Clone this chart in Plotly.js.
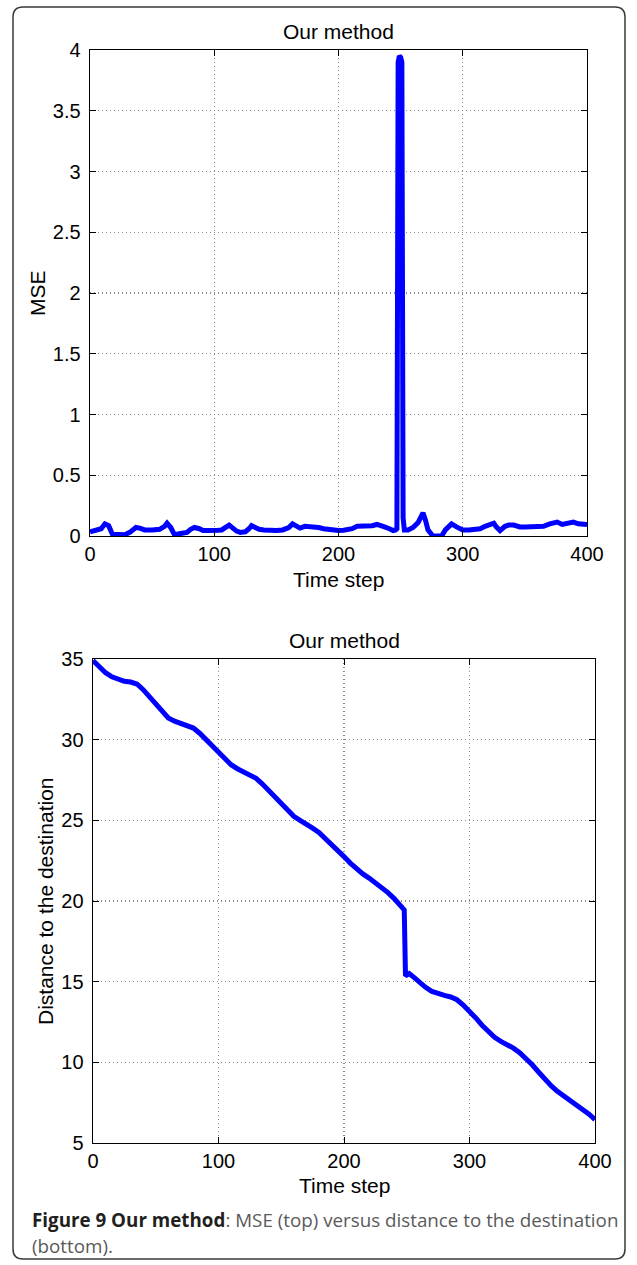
<!DOCTYPE html>
<html>
<head>
<meta charset="utf-8">
<script src="https://cdn.plot.ly/plotly-3.0.1.min.js"></script>
<style>html,body{margin:0;padding:0;background:#fff;}#chart{width:637px;height:1265px;}</style>
</head>
<body>
<div id="chart"></div>
<script>
// ---- Data ----
const mseTime = [0,3,6,9,12,15,18,22,28,32,35,37,40,44,50,56,60,62,65,68,73,78,81,84,88,91,95,99,103,106,109,112,115,118,121,125,128,130,133,136,140,145,150,155,160,163,166,169,173,177,180,184,188,193,197,200,204,208,211,215,219,223,227,231,234,237,241,244,246,247,248,249,250,251,252,253,256,260,264,268,270,272,276,280,283,286,291,295,300,305,310,314,318,322,325,327,330,334,337,341,346,350,354,360,365,370,373,376,380,384,389,393,397,400];
const mseValue = [0.035,0.04,0.045,0.06,0.1,0.085,0.015,0.01,0.01,0.03,0.055,0.07,0.065,0.05,0.05,0.055,0.08,0.105,0.07,0.01,0.02,0.03,0.055,0.07,0.06,0.045,0.045,0.043,0.048,0.05,0.065,0.09,0.065,0.04,0.03,0.035,0.06,0.085,0.07,0.055,0.05,0.045,0.045,0.05,0.07,0.1,0.08,0.065,0.08,0.08,0.075,0.07,0.06,0.05,0.045,0.045,0.048,0.05,0.06,0.08,0.08,0.085,0.085,0.095,0.09,0.075,0.06,0.045,0.05,0.06,3.9,3.95,3.94,3.9,0.15,0.05,0.05,0.07,0.11,0.19,0.13,0.05,0.0,0.0,0.0,0.05,0.1,0.075,0.05,0.05,0.05,0.06,0.08,0.1,0.105,0.075,0.045,0.08,0.09,0.09,0.075,0.075,0.075,0.075,0.08,0.1,0.11,0.115,0.095,0.1,0.115,0.1,0.1,0.095];

const distTime = [0,5,10,15,20,25,30,35,40,45,50,55,60,65,70,75,80,85,90,95,100,105,110,115,120,125,130,135,140,145,150,155,160,165,170,175,180,185,190,195,200,205,210,215,220,225,230,235,240,245,248,249,252,256,260,265,270,275,280,285,290,295,300,305,310,315,320,325,330,335,340,345,350,355,360,365,370,375,380,385,390,395,400];
const distValue = [34.9,34.5,34.15,33.9,33.72,33.62,33.57,33.45,33.1,32.65,32.15,31.7,31.35,31.15,31.02,30.9,30.72,30.4,30.0,29.6,29.2,28.8,28.45,28.2,28.02,27.85,27.6,27.25,26.85,26.42,26.0,25.6,25.25,25.0,24.78,24.52,24.25,23.9,23.55,23.15,22.75,22.35,21.98,21.68,21.42,21.15,20.85,20.52,20.15,19.75,19.45,15.35,15.5,15.25,14.95,14.65,14.4,14.25,14.15,14.05,13.88,13.55,13.2,12.75,12.3,11.88,11.55,11.3,11.1,10.88,10.6,10.25,9.85,9.4,8.95,8.55,8.2,7.92,7.68,7.42,7.12,6.8,6.45];

const xTicks = [0,100,200,300,400];
const xTickLabels = ['0','100','200','300','400'];
const mseTicks = [0,0.5,1,1.5,2,2.5,3,3.5,4];
const mseTickLabels = ['0','0.5','1','1.5','2','2.5','3','3.5','4'];
const distTicks = [5,10,15,20,25,30,35];
const distTickLabels = ['5','10','15','20','25','30','35'];

const plotTitle = 'Our method';
const xLabel = 'Time step';
const mseLabel = 'MSE';
const distLabel = 'Distance to the destination';
const captionBold = 'Figure 9 Our method';
const captionRest1 = ': MSE (top) versus distance to the destination';
const captionRest2 = '(bottom).';

// ---- Layout geometry ----
const W = 637, H = 1265;
const fx = px => px / W;
const fy = py => 1 - py / H;

const FONT = 'Liberation Sans, Arial, Helvetica, sans-serif';
const tickFont = {family: FONT, size: 20, color: '#000'};

function xAxisDef(l, r, anchor) {
  return {
    domain: [fx(l), fx(r)], range: [0, 400], anchor: anchor,
    tickvals: xTicks, ticktext: xTickLabels,
    ticks: 'inside', ticklen: 6, tickcolor: '#000', tickwidth: 1,
    showline: true, linecolor: '#000', linewidth: 1.4, mirror: 'ticks',
    showgrid: true, gridcolor: '#8c8c8c', griddash: '1px,3px', gridwidth: 1.2,
    zeroline: false, tickfont: tickFont, fixedrange: true, ticklabelstandoff: 0
  };
}
function yAxisDef(t, b, anchor, rng, tv, tt) {
  return {
    domain: [fy(b), fy(t)], range: rng, anchor: anchor,
    tickvals: tv, ticktext: tt,
    ticks: 'inside', ticklen: 6, tickcolor: '#000', tickwidth: 1,
    showline: true, linecolor: '#000', linewidth: 1.4, mirror: 'ticks',
    showgrid: true, gridcolor: '#8c8c8c', griddash: '1px,3px', gridwidth: 1.2,
    zeroline: false, tickfont: tickFont, fixedrange: true, ticklabelstandoff: 4
  };
}

const TOP = {l: 90, r: 587, t: 50, b: 536};
const BOT = {l: 93, r: 595, t: 659, b: 1143};

const traces = [
  {x: mseTime, y: mseValue, xaxis: 'x', yaxis: 'y', type: 'scatter', mode: 'lines',
   line: {color: '#0000ff', width: 5}, hoverinfo: 'skip', showlegend: false},
  {x: distTime, y: distValue, xaxis: 'x2', yaxis: 'y2', type: 'scatter', mode: 'lines',
   line: {color: '#0000ff', width: 5}, hoverinfo: 'skip', showlegend: false}
];

const labelFont = {family: FONT, size: 21, color: '#000'};
const titleFont = {family: FONT, size: 21, color: '#000'};
const capFont = 'Open Sans, Noto Sans, sans-serif';
const annotations = [
  {text: plotTitle, xref: 'paper', yref: 'paper', x: fx((TOP.l + TOP.r) / 2), y: fy(32), xanchor: 'center', yanchor: 'middle', showarrow: false, font: titleFont},
  {text: xLabel, xref: 'paper', yref: 'paper', x: fx((TOP.l + TOP.r) / 2), y: fy(579), xanchor: 'center', yanchor: 'middle', showarrow: false, font: labelFont},
  {text: mseLabel, xref: 'paper', yref: 'paper', x: fx(37), y: fy((TOP.t + TOP.b) / 2), xanchor: 'center', yanchor: 'middle', textangle: -90, showarrow: false, font: labelFont},
  {text: plotTitle, xref: 'paper', yref: 'paper', x: fx((BOT.l + BOT.r) / 2), y: fy(640), xanchor: 'center', yanchor: 'middle', showarrow: false, font: titleFont},
  {text: xLabel, xref: 'paper', yref: 'paper', x: fx((BOT.l + BOT.r) / 2), y: fy(1185), xanchor: 'center', yanchor: 'middle', showarrow: false, font: labelFont},
  {text: distLabel, xref: 'paper', yref: 'paper', x: fx(45), y: fy((BOT.t + BOT.b) / 2), xanchor: 'center', yanchor: 'middle', textangle: -90, showarrow: false, font: labelFont},
  {text: '<b>' + captionBold + '</b><span style="color:#5a5a5a">' + captionRest1 + '</span>', xref: 'paper', yref: 'paper', x: fx(30), y: fy(1220), xanchor: 'left', yanchor: 'middle', showarrow: false,
   font: {family: capFont, size: 18.8, color: '#231f20'}},
  {text: captionRest2, xref: 'paper', yref: 'paper', x: fx(30), y: fy(1246), xanchor: 'left', yanchor: 'middle', showarrow: false,
   font: {family: capFont, size: 18.8, color: '#5a5a5a'}}
];

// rounded frame
const L = fx(13), R = fx(625), T = fy(7), B = fy(1259);
const rx = fx(10), ry = 10 / H;
const framePath = `M ${L + rx},${T} L ${R - rx},${T} Q ${R},${T} ${R},${T - ry} L ${R},${B + ry} Q ${R},${B} ${R - rx},${B} L ${L + rx},${B} Q ${L},${B} ${L},${B + ry} L ${L},${T - ry} Q ${L},${T} ${L + rx},${T} Z`;

const layout = {
  width: W, height: H,
  margin: {l: 0, r: 0, t: 0, b: 0, pad: 0},
  paper_bgcolor: '#fff', plot_bgcolor: '#fff',
  showlegend: false,
  xaxis: xAxisDef(TOP.l, TOP.r, 'y'),
  yaxis: yAxisDef(TOP.t, TOP.b, 'x', [0, 4], mseTicks, mseTickLabels),
  xaxis2: xAxisDef(BOT.l, BOT.r, 'y2'),
  yaxis2: yAxisDef(BOT.t, BOT.b, 'x2', [5, 35], distTicks, distTickLabels),
  annotations: annotations,
  shapes: [{type: 'path', xref: 'paper', yref: 'paper', path: framePath, line: {color: '#3a3a3a', width: 1.5}, fillcolor: 'rgba(0,0,0,0)'}]
};

Plotly.newPlot('chart', traces, layout, {staticPlot: true, displayModeBar: false});
</script>
</body>
</html>
